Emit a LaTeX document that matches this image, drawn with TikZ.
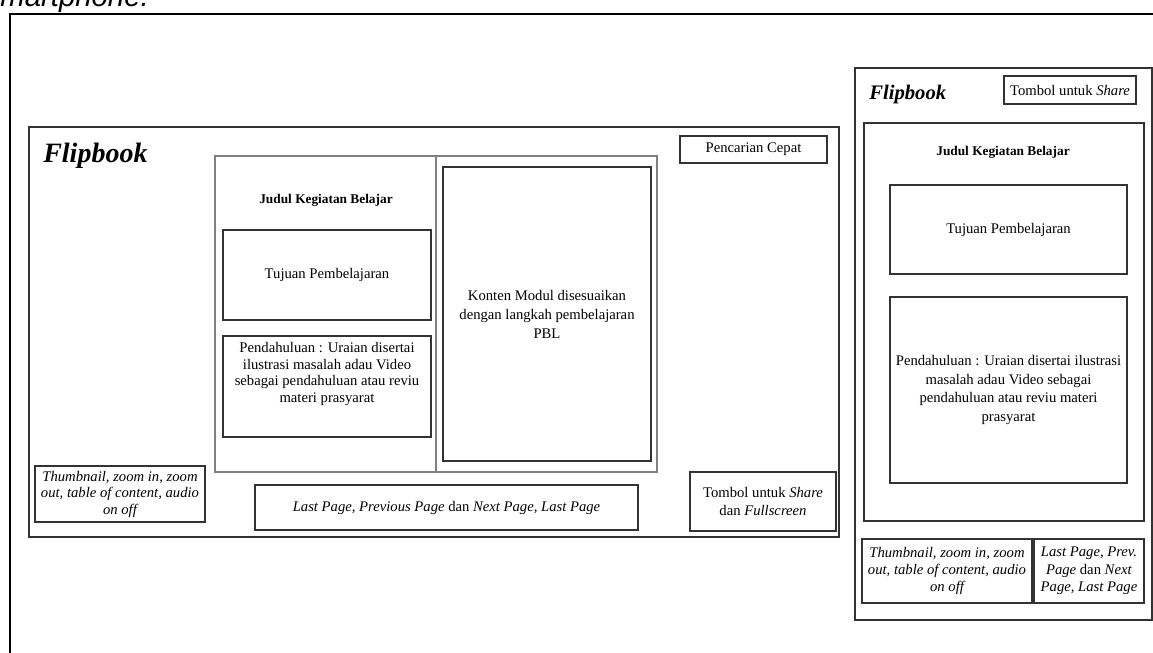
\documentclass[tikz,border=0pt]{standalone}
\usepackage{fontspec}
\setmainfont{Liberation Serif}
\newfontfamily\capfont{Liberation Sans}
\begin{document}
\begin{tikzpicture}[x=0.75pt, y=-0.75pt,
		box/.style 2 args={draw=black!80, line width=0.8pt, minimum width=#1*0.75pt, minimum height=#2*0.75pt, inner sep=0pt, align=center, font=\fontsize{11}{13}\selectfont},
		panel/.style={draw=black!50, line width=1.1pt},
		judul/.style={inner sep=0pt, font=\fontsize{10}{12}\bfseries\selectfont},
		brand/.style={inner sep=0pt, anchor=base west, font=\fontsize{#1}{#1}\bfseries\itshape\selectfont}]
				\useasboundingbox (0,0) rectangle (1153,653);
				\clip (0,0) rectangle (1153,653);

				\draw[line width=2pt] (10,670) -- (10,14) -- (1170,14);
				\node[anchor=base east, inner sep=0pt, font=\capfont\itshape\fontsize{22}{26}\selectfont] (cap) at (149,7) {smartphone.};

				% tampilan desktop
				\node[box={810}{410}] (desk) at (434,332) {};
				\node[brand=21] (deskname) at (43,162) {Flipbook};
				\node[panel, minimum width=442*0.75pt, minimum height=316*0.75pt, inner sep=0pt] (page) at (436,314) {};
				\draw[panel] (page.north) -- (page.south);
				\node[judul] (deskjudul) at (326,200) {Judul Kegiatan Belajar};
				\node[box={208}{90}] (desktujuan) at (327,275) {Tujuan Pembelajaran};
				\node[box={208}{101}] (deskintro) at (327,386.5) {};
				\node[anchor=north, inner sep=0pt, align=center, font=\fontsize{11}{12.5}\selectfont] (deskintrotext) at (327,342) {Pendahuluan : Uraian disertai\\ilustrasi masalah adau Video\\sebagai pendahuluan atau reviu\\materi prasyarat};
				\node[box={208}{294}, font=\fontsize{11}{14.2}\selectfont] (deskkonten) at (547,314) {Konten Modul disesuaikan\\dengan langkah pembelajaran\\PBL};
				\node[box={147}{27}] (desksearch) at (753.5,149.5) {Pencarian Cepat};
				\node[box={170}{56}, font=\fontsize{11}{12.4}\itshape\selectfont] (deskthumb) at (120,494) {Thumbnail, zoom in, zoom\\out, table of content, audio\\on off};
				\node[box={383}{45}] (desknav) at (446.5,507.5) {\textit{Last Page, Previous Page} dan \textit{Next Page, Last Page}};
				\node[box={146}{59}, font=\fontsize{11}{13.5}\selectfont] (deskshare) at (763,501.5) {Tombol untuk \textit{Share}\\dan \textit{Fullscreen}};

				% tampilan smartphone
				\node[box={297}{552}] (phone) at (1003.5,344) {};
				\node[brand=15.5] (phonename) at (869,99) {Flipbook};
				\node[box={132}{28}] (phoneshare) at (1070,90) {Tombol untuk \textit{Share}};
				\node[box={280}{398}] (phonepage) at (1004,322) {};
				\node[judul] (phonejudul) at (1003,152) {Judul Kegiatan Belajar};
				\node[box={237}{89}] (phonetujuan) at (1008.5,229.5) {Tujuan Pembelajaran};
				\node[box={237}{186}, font=\fontsize{11}{14}\selectfont] (phoneintro) at (1008.5,390) {Pendahuluan : Uraian disertai ilustrasi\\masalah adau Video sebagai\\pendahuluan atau reviu materi\\prasyarat};
				\node[box={170}{64}, font=\fontsize{11}{13}\itshape\selectfont] (phonethumb) at (947,571) {Thumbnail, zoom in, zoom\\out, table of content, audio\\on off};
				\node[box={110}{64}] (phonenav) at (1089,571) {\textit{Last Page, Prev.}\\\textit{Page} dan \textit{Next}\\\textit{Page, Last Page}};
			\end{tikzpicture}
\end{document}
